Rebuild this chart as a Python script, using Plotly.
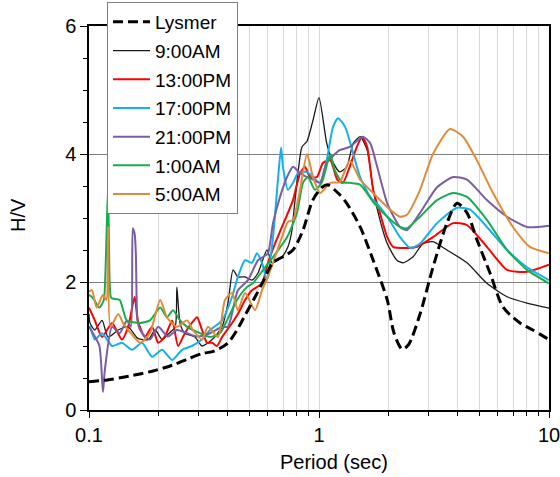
import plotly.graph_objects as go

# ---------------- data ----------------
lys_p = [0.10, 0.12, 0.15, 0.19, 0.23, 0.27, 0.31, 0.35, 0.40, 0.44, 0.48, 0.53, 0.57, 0.63, 0.70,
         0.77, 0.85, 0.94, 1.03, 1.09, 1.21, 1.32, 1.51, 1.72, 1.98, 2.12, 2.30, 2.45, 2.75, 3.13,
         3.60, 3.98, 4.40, 4.86, 5.54, 6.31, 7.48, 8.51, 10.0]
lys_hv = [0.44, 0.47, 0.53, 0.61, 0.70, 0.80, 0.88, 0.92, 1.04, 1.25, 1.50, 1.78, 2.00, 2.30, 2.40,
          2.50, 2.80, 3.28, 3.48, 3.52, 3.39, 3.23, 2.86, 2.34, 1.72, 1.20, 0.95, 1.02, 1.50, 2.23,
          2.92, 3.23, 3.08, 2.66, 2.14, 1.61, 1.36, 1.25, 1.10]

am9_p = [0.100, 0.101, 0.106, 0.114, 0.121, 0.134, 0.148, 0.163, 0.181, 0.194, 0.208, 0.220, 0.237,
         0.241, 0.249, 0.261, 0.289, 0.310, 0.343, 0.379, 0.402, 0.423, 0.444, 0.477, 0.511, 0.543,
         0.594, 0.625, 0.690, 0.733, 0.763, 0.771, 0.810, 0.843, 0.887, 0.942, 1.00, 1.08, 1.14,
         1.23, 1.32, 1.41, 1.51, 1.62, 1.72, 1.84, 1.98, 2.18, 2.32, 2.56, 2.83, 3.13, 3.60, 4.40,
         5.37, 6.57, 8.02, 10.0]
am9_hv = [1.50, 1.36, 1.25, 1.40, 1.14, 1.25, 1.30, 1.12, 1.10, 1.25, 1.10, 1.18, 1.30,
          1.92, 1.35, 1.20, 1.14, 1.00, 1.10, 1.30, 1.67, 2.19, 2.08, 2.08, 2.03, 2.14,
          2.50, 2.30, 2.39, 2.55, 2.81, 2.97, 3.70, 4.11, 4.20, 4.53, 4.88, 4.17, 3.90,
          3.72, 3.80, 4.17, 4.27, 4.06, 3.44, 2.97, 2.60, 2.34, 2.30, 2.39, 2.60, 2.63, 2.50, 2.30,
          1.98, 1.77, 1.67, 1.59]

pm13_p = [0.100, 0.106, 0.114, 0.126, 0.139, 0.148, 0.158, 0.163, 0.175, 0.188, 0.200, 0.214, 0.230,
          0.244, 0.261, 0.280, 0.295, 0.310, 0.326, 0.343, 0.360, 0.379, 0.419, 0.444, 0.477, 0.511,
          0.565, 0.600, 0.644, 0.711, 0.771, 0.827, 0.869, 0.914, 0.980, 1.04, 1.12, 1.20, 1.27,
          1.36, 1.46, 1.54, 1.62, 1.72, 1.84, 1.98, 2.10, 2.41, 2.67, 3.13, 3.83, 4.40, 5.37, 6.57,
          8.02, 10.0]
pm13_hv = [1.60, 1.40, 1.14, 1.36, 1.10, 1.30, 1.77, 1.40, 1.14, 1.30, 1.05, 1.15, 1.40,
           1.00, 1.20, 1.36, 1.45, 1.25, 1.05, 1.05, 1.00, 1.14, 1.36, 1.50, 1.72, 1.87,
           1.98, 2.30, 2.60, 2.97, 3.28, 3.70, 3.80, 3.64, 3.64, 3.86, 3.90, 3.60, 3.55,
           3.80, 4.11, 4.27, 4.11, 3.44, 3.08, 2.70, 2.55, 2.53, 2.55, 2.70, 2.92, 2.89, 2.55, 2.19,
           2.16, 2.27]

pm17_p = [0.100, 0.101, 0.106, 0.114, 0.126, 0.139, 0.154, 0.170, 0.188, 0.208, 0.230, 0.254, 0.280,
          0.310, 0.336, 0.379, 0.419, 0.444, 0.477, 0.511, 0.537, 0.565, 0.594, 0.631, 0.663, 0.684,
          0.697, 0.733, 0.771, 0.810, 0.887, 0.942, 1.01, 1.08, 1.15, 1.21, 1.30, 1.41, 1.51, 1.67,
          1.81, 1.98, 2.25, 2.49, 2.75, 3.26, 3.98, 4.54, 5.37, 6.57, 8.02, 10.0]
pm17_hv = [1.30, 1.30, 1.10, 1.20, 1.00, 1.05, 0.94, 1.05, 0.83, 0.94, 0.78, 0.94, 1.00,
           1.10, 1.25, 1.40, 1.77, 2.08, 2.34, 2.30, 2.45, 2.30, 2.03, 2.70, 3.60, 4.10,
           3.80, 3.44, 3.55, 3.70, 3.72, 3.64, 3.55, 3.90, 4.42, 4.56, 4.42, 4.00, 3.64, 3.33,
           3.20, 3.02, 2.70, 2.53, 2.60, 2.92, 3.16, 3.13, 2.86, 2.50, 2.23, 2.03]

pm21_p = [0.100, 0.104, 0.111, 0.115, 0.117, 0.126, 0.136, 0.146, 0.152, 0.155, 0.158, 0.160, 0.163,
          0.170, 0.184, 0.200, 0.220, 0.241, 0.267, 0.295, 0.336, 0.379, 0.402, 0.444, 0.491, 0.543,
          0.571, 0.600, 0.631, 0.677, 0.726, 0.771, 0.827, 0.887, 0.942, 1.01, 1.08, 1.23, 1.36,
          1.55, 1.67, 1.79, 1.98, 2.25, 2.41, 2.75, 3.26, 3.83, 4.40, 5.37, 6.57, 8.02, 10.0]
pm21_hv = [1.30, 1.20, 1.00, 0.28, 0.60, 1.30, 1.20, 1.40, 1.30, 2.84, 2.75, 2.40, 1.36,
           1.20, 1.10, 1.30, 1.15, 1.25, 1.20, 1.15, 1.20, 1.30, 1.30, 1.87, 2.03, 2.34,
           2.39, 2.45, 2.92, 3.33, 3.64, 3.80, 3.70, 3.64, 3.60, 3.55, 3.86, 4.06, 4.11,
           4.27, 4.17, 3.80, 3.23, 2.86, 2.81, 3.08, 3.48, 3.64, 3.60, 3.28, 3.02, 2.86, 2.88]

am1_p = [0.100, 0.104, 0.111, 0.116, 0.118, 0.121, 0.123, 0.125, 0.136, 0.146, 0.167, 0.184, 0.204,
         0.218, 0.232, 0.249, 0.267, 0.304, 0.336, 0.371, 0.398, 0.440, 0.486, 0.516, 0.571, 0.631,
         0.726, 0.802, 0.852, 0.896, 0.960, 1.03, 1.12, 1.17, 1.26, 1.36, 1.51, 1.72, 1.98, 2.25,
         2.41, 2.75, 3.26, 3.83, 4.40, 5.37, 6.57, 8.02, 10.0]
am1_hv = [1.80, 1.75, 1.60, 1.72, 2.20, 3.50, 2.00, 1.75, 1.72, 1.40, 1.36, 1.40, 1.60,
          1.45, 1.56, 1.40, 1.30, 1.20, 1.14, 1.20, 1.40, 1.72, 1.92, 1.98, 2.19, 2.39,
          2.70, 3.08, 3.55, 3.64, 3.44, 3.56, 4.00, 3.75, 3.56, 3.55, 3.52, 3.25, 3.02, 2.86,
          2.84, 3.02, 3.28, 3.39, 3.33, 2.97, 2.50, 2.19, 1.98]

am5_p = [0.100, 0.103, 0.108, 0.115, 0.119, 0.121, 0.124, 0.134, 0.141, 0.152, 0.167, 0.184, 0.204,
         0.218, 0.241, 0.267, 0.283, 0.310, 0.329, 0.364, 0.390, 0.419, 0.444, 0.477, 0.527, 0.565,
         0.600, 0.644, 0.690, 0.733, 0.771, 0.827, 0.887, 0.942, 1.01, 1.12, 1.23, 1.36, 1.51,
         1.72, 1.98, 2.25, 2.41, 2.75, 3.13, 3.71, 4.23, 4.86, 5.71, 6.97, 8.26, 10.0]
am5_hv = [1.85, 1.87, 1.60, 1.80, 1.72, 2.86, 1.30, 1.50, 1.35, 1.20, 1.05, 1.20, 1.72,
          1.45, 1.30, 1.40, 1.25, 1.10, 1.30, 1.14, 1.72, 1.83, 1.56, 1.83, 1.56, 1.87,
          2.08, 2.39, 2.70, 2.94, 2.97, 3.44, 4.00, 3.64, 3.39, 3.55, 3.56, 3.90, 3.60,
          3.39, 3.17, 3.02, 3.05, 3.44, 4.00, 4.39, 4.27, 3.90, 3.39, 2.86, 2.55, 2.45]

x_tickvals = [0.1, 1, 10]
x_ticktext = ["0.1", "1", "10"]
x_minor = [0.2, 0.3, 0.4, 0.5, 0.6, 0.7, 0.8, 0.9, 2, 3, 4, 5, 6, 7, 8, 9]
y_tickvals = [0, 2, 4, 6]

FONT = "Liberation Sans, Arial, sans-serif"

series = [
    ("9:00AM", am9_p, am9_hv, "#1a1a1a", 1.3),
    ("13:00PM", pm13_p, pm13_hv, "#FF0000", 2),
    ("17:00PM", pm17_p, pm17_hv, "#12B0EE", 2),
    ("21:00PM", pm21_p, pm21_hv, "#7A5EA3", 2),
    ("1:00AM", am1_p, am1_hv, "#18AD4C", 2),
    ("5:00AM", am5_p, am5_hv, "#E08A3A", 2),
]

fig = go.Figure()
for i, (name, xs, ys, col, w) in enumerate(series):
    fig.add_trace(go.Scatter(
        x=xs, y=ys, mode="lines", name=name,
        line=dict(color=col, width=w, shape="spline", smoothing=0.6),
        legendrank=i + 2, legendgroup=name,
    ))
fig.add_trace(go.Scatter(
    x=lys_p, y=lys_hv, mode="lines", name="Lysmer",
    line=dict(color="black", width=3, dash="10px,5px", shape="spline", smoothing=0.8),
    legendrank=1, legendgroup="Lysmer",
))

L, R, T, B = 89, 11, 26, 67
pw, ph = 560 - L - R, 477 - T - B

fig.update_layout(
    width=560, height=477,
    margin=dict(l=L, r=R, t=T, b=B, autoexpand=False),
    paper_bgcolor="white", plot_bgcolor="white",
    font=dict(family=FONT, size=19, color="black"),
    showlegend=True,
    legend=dict(
        x=(107 - L) / pw, y=(410 - 2) / ph, xanchor="left", yanchor="top",
        bgcolor="white", bordercolor="#7f7f7f", borderwidth=1,
        font=dict(family=FONT, size=19, color="black"),
        tracegroupgap=1, itemwidth=37,
    ),
    xaxis=dict(
        type="log", range=[-1, 1], automargin=False, ticklabeloverflow="allow",
        tickvals=x_tickvals, ticktext=x_ticktext,
        ticks="outside", ticklen=6, tickcolor="black", tickwidth=1,
        showline=True, linecolor="black", linewidth=1.5, mirror=True,
        showgrid=True, gridcolor="#d9d9d9", gridwidth=1,
        minor=dict(tickvals=x_minor, ticks="outside", ticklen=4, tickcolor="black",
                   showgrid=True, gridcolor="#d9d9d9", gridwidth=1),
        tickfont=dict(family=FONT, size=20),
        zeroline=False,
    ),
    yaxis=dict(
        range=[0, 6], tickvals=y_tickvals, automargin=False, ticklabeloverflow="allow",
        ticks="outside", ticklen=7, tickcolor="black", tickwidth=1,
        showline=True, linecolor="black", linewidth=1.5, mirror=True,
        showgrid=True, gridcolor="#808080", gridwidth=1,
        minor=dict(dtick=0.5, ticks="outside", ticklen=4, tickcolor="black", showgrid=False),
        tickfont=dict(family=FONT, size=20),
        zeroline=False,
    ),
    annotations=[
        dict(text="Period (sec)", xref="paper", yref="paper",
             x=(334 - L) / pw, y=(410 - 462) / ph, xanchor="center", yanchor="middle",
             showarrow=False, font=dict(family=FONT, size=20)),
        dict(text="H/V", textangle=-90, xref="paper", yref="paper",
             x=(18 - L) / pw, y=(410 - 215) / ph, xanchor="center", yanchor="middle",
             showarrow=False, font=dict(family=FONT, size=20)),
    ],
)

fig.write_html("out.html")
